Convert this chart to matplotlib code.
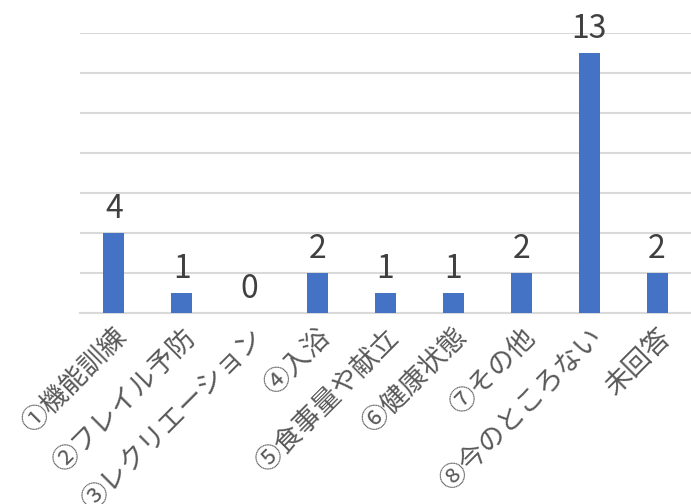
import matplotlib
matplotlib.use("Agg")
import matplotlib.pyplot as plt

plt.rcParams['font.family'] = ['Noto Sans CJK JP', 'DejaVu Sans']

categories = ["①機能訓練", "②フレイル予防", "③レクリエーション", "④入浴", "⑤食事量や献立",
              "⑥健康状態", "⑦その他", "⑧今のところない", "未回答"]
values = [4, 1, 0, 2, 1, 1, 2, 13, 2]

fig = plt.figure(figsize=(6.91, 5.04), dpi=100)
ax = fig.add_axes([80/691, 1-313/504, 1-80/691, (313-33)/504])

x = range(len(categories))
bars = ax.bar(x, values, width=0.31, color='#4472C4', zorder=3)
ax.set_xlim(-0.5, len(categories)-0.5)
ax.set_ylim(0, 14)
ax.set_yticks(range(0, 15, 2))
ax.yaxis.grid(True, color='#d9d9d9', linewidth=1.5, zorder=0)
ax.tick_params(axis='y', length=0, labelleft=False)
ax.tick_params(axis='x', length=0, pad=8)
for s in ['top', 'right', 'left']:
    ax.spines[s].set_visible(False)
ax.spines['bottom'].set_color('#d9d9d9')
ax.spines['bottom'].set_linewidth(1.5)

ax.set_xticks(list(x))
ax.set_xticklabels(categories, rotation=45, ha='right', va='top',
                   rotation_mode='anchor', fontsize=19.5, color='#595959')

for xi, v in zip(x, values):
    ax.annotate(str(v), (xi, v), xytext=(0, 6), textcoords='offset points',
                ha='center', va='bottom', fontsize=23, color='#404040')

fig.savefig('out.png', dpi=100)
